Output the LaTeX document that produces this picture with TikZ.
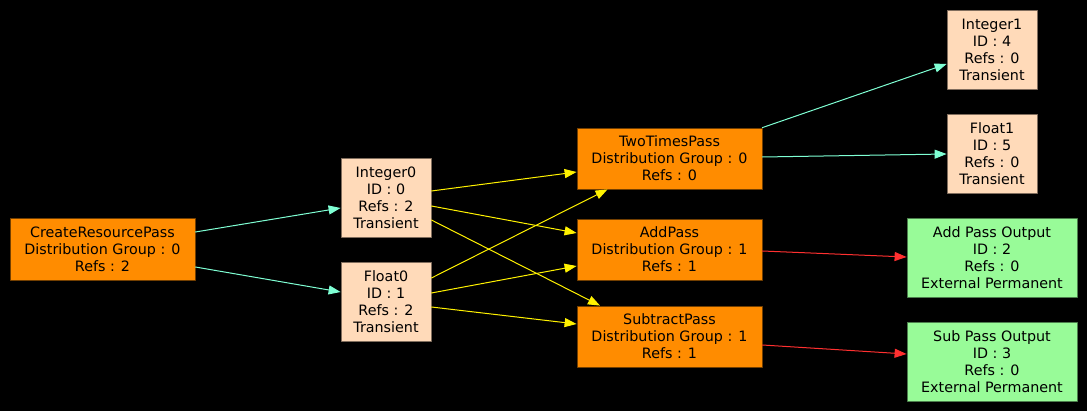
\documentclass[tikz,border=0pt]{standalone}
\usepackage{fontspec}
\setmainfont{DejaVu Sans}
\usetikzlibrary{arrows.meta}

\definecolor{passfill}{HTML}{FF8C00}
\definecolor{resfill}{HTML}{FFDAB9}
\definecolor{outfill}{HTML}{98FB98}
\definecolor{aqua}{HTML}{7FFFD4}
\definecolor{redline}{HTML}{FF3030}

\begin{document}
\begin{tikzpicture}[x=1pt, y=-1pt, >={Triangle[length=12pt,width=9pt]},
    line cap=round, line join=round]
  \tikzset{
    box/.style={rectangle, align=center, inner sep=0pt, line width=0.8pt,
      font=\fontsize{14.3}{17}\selectfont, text=black},
    pass/.style={box, fill=passfill, draw=passfill!45!black,
      minimum width=185pt, minimum height=61pt},
    res/.style={box, fill=resfill, draw=resfill!50!black,
      minimum width=90pt, minimum height=79pt},
    outres/.style={box, fill=outfill, draw=outfill!50!black,
      minimum width=170pt, minimum height=79pt},
    flow/.style={->, line width=1pt},
  }

  % background
  \fill[black] (0,0) rectangle (1087,411);
  \useasboundingbox (0,0) rectangle (1087,411);

  % passes
  \node[pass, minimum height=62pt] (create) at (102.5,249)
    {CreateResourcePass\\Distribution Group : 0\\Refs : 2};
  \node[pass] (twotimes) at (669.5,158.5)
    {TwoTimesPass\\Distribution Group : 0\\Refs : 0};
  \node[pass] (add) at (669.5,249.5)
    {AddPass\\Distribution Group : 1\\Refs : 1};
  \node[pass] (subtract) at (669.5,336.5)
    {SubtractPass\\Distribution Group : 1\\Refs : 1};

  % transient resources
  \node[res] (int0) at (386,197.5) {Integer0\\ID : 0\\Refs : 2\\Transient};
  \node[res] (flt0) at (386,301.5) {Float0\\ID : 1\\Refs : 2\\Transient};
  \node[res] (int1) at (992,49.5) {Integer1\\ID : 4\\Refs : 0\\Transient};
  \node[res] (flt1) at (992,153.5) {Float1\\ID : 5\\Refs : 0\\Transient};

  % outputs
  \node[outres] (addout) at (992,257.5)
    {Add Pass Output\\ID : 2\\Refs : 0\\External Permanent};
  \node[outres] (subout) at (992,361.5)
    {Sub Pass Output\\ID : 3\\Refs : 0\\External Permanent};

  % create -> resources
  \draw[flow, aqua] ([yshift=17pt]create.east) -- ([yshift=-10.5pt]int0.west);
  \draw[flow, aqua] ([yshift=-18pt]create.east) -- ([yshift=9.5pt]flt0.west);

  % resources -> passes
  \draw[flow, yellow] ([yshift=6.5pt]int0.east) -- ([yshift=-13.5pt]twotimes.west);
  \draw[flow, yellow] ([yshift=-8.5pt]int0.east) -- ([yshift=16.5pt]add.west);
  \draw[flow, yellow] ([yshift=-22.5pt]int0.east) -- ([xshift=-69.5pt]subtract.north);
  \draw[flow, yellow] ([yshift=23.5pt]flt0.east) -- ([xshift=-62pt]twotimes.south);
  \draw[flow, yellow] ([yshift=8.5pt]flt0.east) -- ([yshift=-16.5pt]add.west);
  \draw[flow, yellow] ([yshift=-5.5pt]flt0.east) -- ([yshift=12.5pt]subtract.west);

  % passes -> new resources
  \draw[flow, aqua] (twotimes.north east) -- ([yshift=-14.5pt]int1.west);
  \draw[flow, aqua] ([yshift=1.5pt]twotimes.east) -- ([yshift=-0.5pt]flt1.west);
  \draw[flow, redline] ([yshift=-1.5pt]add.east) -- ([yshift=0.5pt]addout.west);
  \draw[flow, redline] ([yshift=-8.5pt]subtract.east) -- ([yshift=7.5pt]subout.west);
\end{tikzpicture}
\end{document}
